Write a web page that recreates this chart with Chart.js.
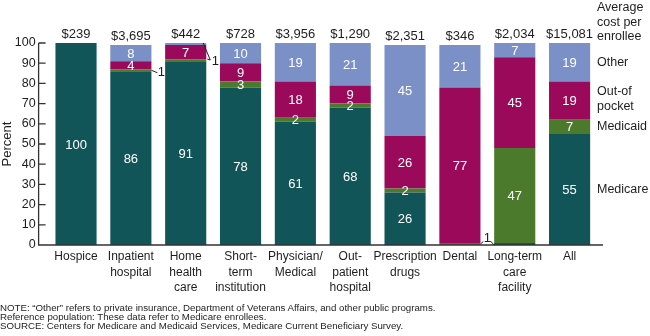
<!DOCTYPE html>
<html lang="en">
<head>
    <meta charset="utf-8">
    <script src="https://cdn.jsdelivr.net/npm/chart.js@4.4.1/dist/chart.umd.min.js"></script>
    <style>
        body { margin: 0; background: #fff; }
        #wrap { position: relative; width: 650px; height: 336px; }
        #notes {
            position: absolute;
            left: 0;
            top: 303px;
            font-family: "Liberation Sans", Arial, sans-serif;
            font-size: 9.7px;
            line-height: 9px;
            color: #222;
            white-space: nowrap;
        }
    </style>
</head>
<body>
    <div id="wrap">
        <canvas id="costChart" width="650" height="336"></canvas>
        <div id="notes">
            <div>NOTE: “Other” refers to private insurance, Department of Veterans Affairs, and other public programs.</div>
            <div>Reference population: These data refer to Medicare enrollees.</div>
            <div>SOURCE: Centers for Medicare and Medicaid Services, Medicare Current Beneficiary Survey.</div>
        </div>
    </div>

    <script>
        const categories = [
            ['Hospice'],
            ['Inpatient', 'hospital'],
            ['Home', 'health', 'care'],
            ['Short-', 'term', 'institution'],
            ['Physician/', 'Medical'],
            ['Out-', 'patient', 'hospital'],
            ['Prescription', 'drugs'],
            ['Dental'],
            ['Long-term', 'care', 'facility'],
            ['All']
        ];
        const avgCost = ['$239', '$3,695', '$442', '$728', '$3,956', '$1,290', '$2,351', '$346', '$2,034', '$15,081'];

        const medicare    = [100, 86, 91, 78, 61, 68, 26, 0, 1, 55];
        const medicaid    = [0, 1, 1, 3, 2, 2, 2, 1, 47, 7];
        const outOfPocket = [0, 4, 7, 9, 18, 9, 26, 77, 45, 19];
        const other       = [0, 8, 1, 10, 19, 21, 45, 21, 7, 19];

        const yTicks = [0, 10, 20, 30, 40, 50, 60, 70, 80, 90, 100];

        const FONT = '"Liberation Sans", Arial, sans-serif';
        const INK = '#1e1e1e';

        // axis lines sit a bit left of the first bar, with short inward ticks
        const axisPlugin = {
            id: 'axisLines',
            afterDatasetsDraw(chart) {
                const ctx = chart.ctx;
                const y = chart.scales.y;
                const x0 = chart.chartArea.left - 10;
                const x1 = chart.chartArea.right + 6;
                ctx.save();
                ctx.strokeStyle = '#333';
                ctx.lineWidth = 1.3;
                ctx.beginPath();
                ctx.moveTo(x0, y.getPixelForValue(100));
                ctx.lineTo(x0, y.getPixelForValue(0));
                ctx.lineTo(x1, y.getPixelForValue(0));
                yTicks.forEach(t => {
                    const py = y.getPixelForValue(t);
                    ctx.moveTo(x0, py);
                    ctx.lineTo(x0 + 7, py);
                });
                ctx.stroke();
                ctx.restore();
            }
        };

        // segment values, cost labels, "1" callouts and the series names on the right
        const labelPlugin = {
            id: 'barLabels',
            afterDatasetsDraw(chart) {
                const ctx = chart.ctx;
                const yScale = chart.scales.y;
                ctx.save();
                ctx.font = '13px ' + FONT;
                ctx.textAlign = 'center';
                ctx.textBaseline = 'middle';
                ctx.fillStyle = '#fff';

                chart.data.datasets.forEach((ds, i) => {
                    const meta = chart.getDatasetMeta(i);
                    meta.data.forEach((bar, j) => {
                        const v = ds.data[j];
                        if (v >= 2) {
                            ctx.fillText(String(v), bar.x, (bar.y + bar.base) / 2 + 1);
                        }
                    });
                });

                // average cost above each bar
                ctx.fillStyle = INK;
                ctx.textBaseline = 'alphabetic';
                const bars = chart.getDatasetMeta(0).data;
                avgCost.forEach((c, j) => {
                    const total = medicare[j] + medicaid[j] + outOfPocket[j] + other[j];
                    ctx.fillText(c, bars[j].x, yScale.getPixelForValue(total) - 5);
                });

                // callouts for the 1% slices
                ctx.strokeStyle = '#222';
                ctx.lineWidth = 1;
                ctx.textBaseline = 'middle';
                const seg = (i, j) => chart.getDatasetMeta(i).data[j];

                let b = seg(1, 1);
                let cy = (b.y + b.base) / 2;
                ctx.beginPath();
                ctx.moveTo(b.x + b.width / 2, cy);
                ctx.lineTo(b.x + b.width / 2 + 6, cy + 2.5);
                ctx.stroke();
                ctx.fillText('1', b.x + b.width / 2 + 10, cy + 2.5);

                b = seg(3, 2);
                ctx.beginPath();
                ctx.moveTo(b.x + b.width / 2 - 3, b.y);
                ctx.lineTo(b.x + b.width / 2 + 4, b.y + 17);
                ctx.lineTo(b.x + b.width / 2 + 1, b.y + 16);
                ctx.stroke();
                ctx.fillText('1', b.x + b.width / 2 + 9, b.y + 18);

                const d = seg(1, 7);
                const l = seg(1, 8);
                const by = (d.y + d.base) / 2;
                const mx = (d.x + d.width / 2 + l.x - l.width / 2) / 2;
                ctx.beginPath();
                ctx.moveTo(d.x + d.width / 2, by);
                ctx.lineTo(mx - 4, by - 2.5);
                ctx.moveTo(mx + 3, by - 3);
                ctx.lineTo(l.x - l.width / 2, by + 1);
                ctx.stroke();
                ctx.fillText('1', mx, by - 6);

                // series names next to the last bar
                const last = categories.length - 1;
                const rx = chart.chartArea.right;
                const mid = (i) => { const e = seg(i, last); return (e.y + e.base) / 2; };
                ctx.font = '12.5px ' + FONT;
                ctx.textAlign = 'left';
                ctx.fillText('Average', rx, 8);
                ctx.fillText('cost per', rx, 22.5);
                ctx.fillText('enrollee', rx, 37);
                ctx.fillText('Other', rx, mid(3));
                ctx.fillText('Out-of', rx, mid(2) - 9);
                ctx.fillText('pocket', rx, mid(2) + 6);
                ctx.fillText('Medicaid', rx, mid(1));
                ctx.fillText('Medicare', rx, mid(0));
                ctx.restore();
            }
        };

        const ctx = document.getElementById('costChart');
        const costChart = new Chart(ctx, {
            type: 'bar',
            data: {
                labels: categories,
                datasets: [
                    { label: 'Medicare', data: medicare, backgroundColor: '#125558' },
                    { label: 'Medicaid', data: medicaid, backgroundColor: '#4c7a2c' },
                    { label: 'Out-of pocket', data: outOfPocket, backgroundColor: '#9b0a5a' },
                    { label: 'Other', data: other, backgroundColor: '#7b90c6' }
                ].map(ds => Object.assign(ds, { barPercentage: 0.75, categoryPercentage: 1.0 }))
            },
            options: {
                responsive: false,
                animation: false,
                layout: { padding: { top: 43, right: 53, left: 0, bottom: 0 } },
                plugins: {
                    legend: { display: false },
                    tooltip: { enabled: false }
                },
                scales: {
                    x: {
                        stacked: true,
                        grid: { display: false, drawTicks: false },
                        border: { display: false },
                        ticks: {
                            color: INK,
                            font: { family: FONT, size: 12, lineHeight: 1.3 },
                            padding: 4,
                            autoSkip: false,
                            maxRotation: 0
                        },
                        afterFit: (scale) => { scale.height = 91; }
                    },
                    y: {
                        stacked: true,
                        min: 0,
                        max: 100,
                        grid: { display: false, drawTicks: false },
                        border: { display: false },
                        ticks: {
                            stepSize: 10,
                            color: INK,
                            font: { family: FONT, size: 12.5 },
                            padding: 13
                        },
                        title: {
                            display: true,
                            text: 'Percent',
                            color: INK,
                            font: { family: FONT, size: 13, lineHeight: 1.2 },
                            padding: 0
                        },
                        afterFit: (scale) => { scale.width = 48.6; }
                    }
                }
            },
            plugins: [axisPlugin, labelPlugin]
        });
    </script>
</body>
</html>
